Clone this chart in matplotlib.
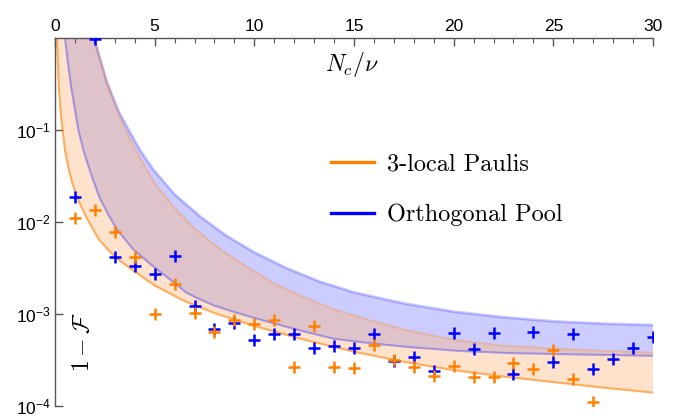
import numpy as np
import matplotlib
matplotlib.use("Agg")
import matplotlib.pyplot as plt
from matplotlib.lines import Line2D
from matplotlib.ticker import MultipleLocator, NullLocator, FixedLocator, FixedFormatter

plt.rcParams['font.family'] = ['Liberation Sans', 'DejaVu Sans']

# ---------------- data ----------------
x_orange = list(range(1, 28))
y_orange = [0.011, 0.0134, 0.0078, 0.0042, 0.0010, 0.00214, 0.00102, 0.00064, 0.00087,
            0.00078, 0.00086, 0.000264, 0.000745, 0.000264, 0.000258, 0.00046, 0.00032,
            0.000268, 0.000214, 0.000275, 0.000206, 0.000208, 0.000292, 0.000253,
            0.000406, 0.000197, 0.00011]

x_blue = list(range(1, 31))
y_blue = [0.0186, 0.97, 0.0042, 0.0033, 0.0027, 0.00425, 0.00122, 0.000686, 0.0008,
          0.000518, 0.0006, 0.000605, 0.000423, 0.000449, 0.000423, 0.0006, 0.00031,
          0.00034, 0.000243, 0.000625, 0.000414, 0.000625, 0.000223, 0.00064, 0.000303,
          0.000605, 0.000253, 0.000324, 0.000423, 0.000566]

# band boundaries, given as log10 of 1-F read at several N_c/nu
o_lo_x = [0.09, 0.2, 0.3, 0.5, 0.7, 0.9, 1.2, 1.6, 2.2, 3.0, 4.0, 5.0, 6.5, 8.0, 10,
          12.5, 15, 17.5, 20, 22.5, 25, 27.5, 30]
o_lo_log = [0, -0.55, -0.85, -1.22, -1.44, -1.60, -1.78, -1.96, -2.19, -2.38, -2.54,
            -2.69, -2.86, -2.99, -3.13, -3.28, -3.41, -3.52, -3.61, -3.68, -3.74, -3.80, -3.855]

o_hi_x = [2.0, 2.5, 3.0, 3.5, 4.2, 5.0, 6.0, 7.0, 8.3, 9.5, 11, 12.5, 14, 15.5, 17.5,
          20, 22.5, 25, 27.5, 30]
o_hi_log = [0, -0.40, -0.72, -0.98, -1.28, -1.58, -1.85, -2.07, -2.30, -2.47, -2.67,
            -2.82, -2.95, -3.05, -3.17, -3.28, -3.345, -3.375, -3.40, -3.42]

b_lo_x = [0.5, 0.65, 0.8, 1.0, 1.17, 1.45, 1.84, 2.26, 2.7, 3.1, 3.93, 4.85, 5.8, 6.6,
          7.3, 8.0, 9.0, 10.6, 12.3, 14.0, 15.5, 17.5, 20.15, 22.8, 26.2, 30]
b_lo_log = [0, -0.28, -0.52, -0.78, -1.0, -1.24, -1.50, -1.75, -1.93, -2.08, -2.30,
            -2.47, -2.63, -2.77, -2.845, -2.91, -2.98, -3.08, -3.18, -3.27, -3.31,
            -3.355, -3.40, -3.425, -3.44, -3.455]

b_hi_x = [1.95, 2.6, 3.2, 3.7, 4.3, 4.93, 6.0, 7.28, 8.6, 10, 11.6, 13.3, 15, 17.5, 20,
          22.5, 25, 27.5, 30]
b_hi_log = [0, -0.48, -0.80, -1.0, -1.23, -1.43, -1.70, -1.94, -2.15, -2.33, -2.50,
            -2.65, -2.765, -2.885, -2.975, -3.035, -3.08, -3.105, -3.12]

labels = ['3-local Paulis', 'Orthogonal Pool']
xticks = [0, 5, 10, 15, 20, 25, 30]
yticks = [1e-1, 1e-2, 1e-3, 1e-4]
ytick_labels = [r'$\mathdefault{10^{-1}}$', r'$\mathdefault{10^{-2}}$',
                r'$\mathdefault{10^{-3}}$', r'$\mathdefault{10^{-4}}$']

ORANGE = (1.0, 0.5, 0.0)
BLUE = (0.0, 0.0, 1.0)
ORANGE_FILL = (1.0, 0.71, 0.47)
BLUE_FILL = (0.0, 0.0, 1.0)

# ---------------- figure ----------------
fig = plt.figure(figsize=(6.8, 4.2), dpi=100)
ax = fig.add_axes([55 / 680, 14 / 420, 598 / 680, 368 / 420])
ax.set_yscale('log')
ax.set_xlim(0, 30)
ax.set_ylim(1e-4, 1)

def band(xl, yl_log, xh, yh_log, color, fill, fill_alpha, lo_alpha, hi_alpha, lw_hi):
    yl = 10 ** np.array(yl_log)
    yh = 10 ** np.array(yh_log)
    px = np.concatenate([xl, xh[::-1]])
    py = np.concatenate([yl, yh[::-1]])
    ax.fill(px, py, color=fill, alpha=fill_alpha, lw=0, zorder=1)
    ax.plot(xl, yl, color=color, alpha=lo_alpha, lw=1.5, zorder=2)
    ax.plot(xh, yh, color=color, alpha=hi_alpha, lw=lw_hi, zorder=2)

band(np.array(b_lo_x), b_lo_log, np.array(b_hi_x), b_hi_log, BLUE, BLUE_FILL, 0.2,
     0.3, 0.22, 2.0)
band(np.array(o_lo_x), o_lo_log, np.array(o_hi_x), o_hi_log, ORANGE, ORANGE_FILL, 0.38,
     0.6, 0.25, 1.5)

ax.plot(x_blue, y_blue, ls='none', marker='+', ms=9, mew=1.8, color=BLUE, zorder=4)
ax.plot(x_orange, y_orange, ls='none', marker='+', ms=9, mew=1.8, color=ORANGE, zorder=5)

# axes styling
for s in ['bottom', 'right']:
    ax.spines[s].set_visible(False)
for s in ['top', 'left']:
    ax.spines[s].set_color('#555555')
    ax.spines[s].set_linewidth(1.0)

ax.xaxis.tick_top()
ax.xaxis.set_major_locator(FixedLocator(xticks))
ax.xaxis.set_minor_locator(MultipleLocator(1))
ax.tick_params(axis='x', which='major', direction='in', length=6, width=1,
               color='#555555', labelsize=12.5, pad=3)
ax.tick_params(axis='x', which='minor', direction='in', length=3.5, width=0.8,
               color='#555555')
ax.yaxis.set_major_locator(FixedLocator(yticks))
ax.yaxis.set_major_formatter(FixedFormatter(ytick_labels))
ax.yaxis.set_minor_locator(NullLocator())
ax.tick_params(axis='y', which='major', direction='in', length=6, width=1,
               color='#555555', labelsize=12.5, pad=3)

ax.text(0.497, 0.927, r'$N_c/\nu$', transform=ax.transAxes, ha='center', va='center',
        fontsize=17, math_fontfamily='cm')
ax.text(0.047, 0.173, r'$1-\mathcal{F}$', transform=ax.transAxes, ha='center', va='center',
        fontsize=17, rotation=90, math_fontfamily='cm')

handles = [Line2D([], [], color=ORANGE, lw=2.4), Line2D([], [], color=BLUE, lw=2.4)]
leg = ax.legend(handles, labels, loc='center left', bbox_to_anchor=(331 / 680, 1 - 190 / 420),
                bbox_transform=fig.transFigure, frameon=False, borderpad=0, borderaxespad=0,
                handlelength=1.75, handletextpad=0.55, labelspacing=1.15,
                prop={'family': 'cmr10', 'size': 17.5})

fig.savefig('out.png', dpi=100)
